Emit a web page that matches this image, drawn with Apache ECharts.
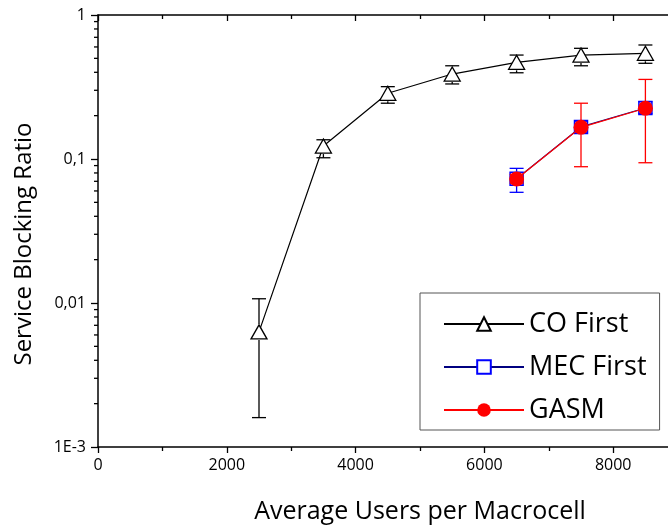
<!DOCTYPE html>
<html><head><meta charset="utf-8">
<script src="https://cdn.jsdelivr.net/npm/echarts@6/dist/echarts.min.js"></script>
<style>html,body{margin:0;padding:0;background:#fff}#c{width:668px;height:526px}</style>
</head><body><div id="c"></div>
<script>
// ---- data ----
const xUsers = [2500, 3500, 4500, 5500, 6500, 7500, 8500];
const coFirst = [0.0063, 0.123, 0.286, 0.389, 0.469, 0.527, 0.542];
const coLow   = [0.0016, 0.102, 0.244, 0.332, 0.397, 0.444, 0.462];
const coHigh  = [0.0107, 0.136, 0.318, 0.444, 0.527, 0.587, 0.619];

const xEdge = [6500, 7500, 8500];
const mecFirst = [0.073, 0.167, 0.226];
const mecLow   = [0.0587, 0.152, 0.207];
const mecHigh  = [0.0861, 0.183, 0.250];

const gasm     = [0.0726, 0.166, 0.225];
const gasmLow  = [0.068, 0.0884, 0.0942];
const gasmHigh = [0.078, 0.244, 0.357];

const yTickValues = [0.001, 0.01, 0.1, 1];
const yTickLabels = ['1E-3', '0,01', '0,1', '1'];
const yMinorTicks = [0.002, 0.003, 0.004, 0.005, 0.006, 0.007, 0.008, 0.009,
                     0.02, 0.03, 0.04, 0.05, 0.06, 0.07, 0.08, 0.09,
                     0.2, 0.3, 0.4, 0.5, 0.6, 0.7, 0.8, 0.9];

const seriesNames = ['CO First', 'MEC First', 'GASM'];
const xTitle = 'Average Users per Macrocell';
const yTitle = 'Service Blocking Ratio';

// ---- chart ----
const FONT = '"Open Sans", sans-serif';
const chart = echarts.init(document.getElementById('c'), null, {renderer: 'canvas'});

function errorBars(name, xs, ys, lows, highs, color, z, gap) {
  return {
    type: 'custom', name: name, z: z, silent: true, clip: false,
    data: xs.map((x, i) => [x, ys[i], lows[i], highs[i]]),
    encode: {x: 0, y: 1},
    renderItem: function (params, api) {
      const c = api.coord([api.value(0), api.value(1)]);
      const pl = api.coord([api.value(0), api.value(2)]);
      const ph = api.coord([api.value(0), api.value(3)]);
      const cap = 7;
      const style = {stroke: color, lineWidth: 1.3};
      const ch = [
        {type: 'line', shape: {x1: c[0] - cap, y1: ph[1], x2: c[0] + cap, y2: ph[1]}, style: style},
        {type: 'line', shape: {x1: c[0] - cap, y1: pl[1], x2: c[0] + cap, y2: pl[1]}, style: style}
      ];
      if (ph[1] < c[1] - gap) ch.push({type: 'line', shape: {x1: c[0], y1: ph[1], x2: c[0], y2: c[1] - gap}, style: style});
      if (pl[1] > c[1] + gap) ch.push({type: 'line', shape: {x1: c[0], y1: c[1] + gap, x2: c[0], y2: pl[1]}, style: style});
      return {type: 'group', children: ch};
    }
  };
}

const option = {
  animation: false,
  backgroundColor: '#fff',
  textStyle: {fontFamily: FONT},
  grid: {left: 98, top: 15, width: 644, height: 432, outerBoundsMode: 'none', containLabel: false},
  legend: {
    data: seriesNames,
    orient: 'vertical',
    left: 420, top: 293,
    padding: [16, 13, 5, 23],
    itemWidth: 80, itemHeight: 17, itemGap: 13,
    borderColor: '#555', borderWidth: 1,
    backgroundColor: '#fff',
    textStyle: {fontFamily: FONT, fontSize: 27, color: '#000', lineHeight: 30},
    selectedMode: false
  },
  xAxis: [{
    type: 'value', min: 0, max: 10000, interval: 2000,
    name: xTitle, nameLocation: 'middle', nameGap: 52,
    nameTextStyle: {fontFamily: FONT, fontSize: 25, color: '#000'},
    axisLine: {show: true, onZero: false, lineStyle: {color: '#000', width: 1.5}},
    axisTick: {show: true, inside: false, length: 6, lineStyle: {color: '#000', width: 1.3}},
    minorTick: {show: true, splitNumber: 2, length: 4, lineStyle: {color: '#000', width: 1.3}},
    axisLabel: {fontFamily: FONT, fontSize: 16, color: '#000', margin: 10,
                formatter: function (v) { return String(v); }},
    splitLine: {show: false}
  }, {
    type: 'value', position: 'top', min: 0, max: 10000, interval: 2000,
    axisLine: {show: true, onZero: false, lineStyle: {color: '#000', width: 1.5}},
    axisTick: {show: true, inside: true, length: 6, lineStyle: {color: '#000', width: 1.3}},
    minorTick: {show: true, splitNumber: 2, length: 4, lineStyle: {color: '#000', width: 1.3}},
    axisLabel: {show: false},
    splitLine: {show: false}
  }],
  yAxis: {
    type: 'log', logBase: 10, min: 0.001, max: 1,
    name: yTitle, nameLocation: 'middle', nameGap: 62,
    nameTextStyle: {fontFamily: FONT, fontSize: 24, color: '#000', padding: [0, 26, 0, 0]},
    axisLine: {show: true, onZero: false, lineStyle: {color: '#000', width: 1.5}},
    axisTick: {show: true, inside: false, length: 7, lineStyle: {color: '#000', width: 1.3}},
    axisLabel: {
      fontFamily: FONT, fontSize: 16, color: '#000', margin: 12,
      formatter: function (v) {
        const i = yTickValues.findIndex(t => Math.abs(Math.log10(t) - Math.log10(v)) < 1e-6);
        return i >= 0 ? yTickLabels[i] : '';
      }
    },
    splitLine: {show: false}
  },
  series: [
    {
      type: 'custom', name: 'yMinor', silent: true, clip: false, z: 10,
      data: yMinorTicks.map(v => [xUsers[0], v]),
      encode: {x: 0, y: 1},
      renderItem: function (params, api) {
        const p = api.coord([0, api.value(1)]);
        return {type: 'group', children: [
          {type: 'line', shape: {x1: p[0] - 4, y1: p[1], x2: p[0], y2: p[1]},
           style: {stroke: '#000', lineWidth: 1.3}}
        ]};
      }
    },
    errorBars('CO First err', xUsers, coFirst, coLow, coHigh, '#000', 2, 8),
    {
      type: 'line', name: 'CO First', z: 3,
      data: xUsers.map((x, i) => [x, coFirst[i]]),
      symbol: 'triangle', symbolSize: [16, 14],
      lineStyle: {color: '#000', width: 1.2},
      itemStyle: {color: '#fff', borderColor: '#000', borderWidth: 1.3},
      emphasis: {disabled: true}
    },
    {
      type: 'line', name: 'MEC First', z: 4,
      data: xEdge.map((x, i) => [x, mecFirst[i]]),
      symbol: 'rect', symbolSize: 13,
      lineStyle: {color: '#000080', width: 1.2},
      itemStyle: {color: '#fff', borderColor: '#0000ff', borderWidth: 1.5},
      emphasis: {disabled: true}
    },
    errorBars('MEC First err', xEdge, mecFirst, mecLow, mecHigh, '#0000ff', 5, 7),
    errorBars('GASM err', xEdge, gasm, gasmLow, gasmHigh, '#ff0000', 6, 7),
    {
      type: 'line', name: 'GASM', z: 7,
      data: xEdge.map((x, i) => [x, gasm[i]]),
      symbol: 'circle', symbolSize: 15,
      lineStyle: {color: '#ff0000', width: 1.2},
      itemStyle: {color: '#ff0000', borderColor: '#ff0000', borderWidth: 0},
      emphasis: {disabled: true}
    }
  ]
};
chart.setOption(option);
</script>
</body></html>
